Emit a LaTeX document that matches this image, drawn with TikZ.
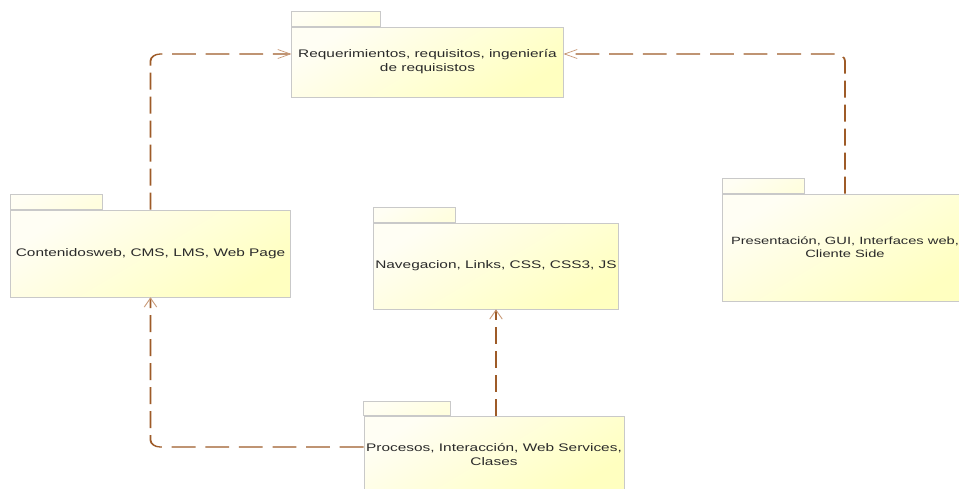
\documentclass[tikz,border=0pt]{standalone}
\usepackage{fontspec}
\setmainfont{Liberation Sans}
\usetikzlibrary{arrows.meta,calc}

\definecolor{pkgedge}{HTML}{C9C9C9}
\definecolor{pkglight}{HTML}{FFFEF4}
\definecolor{pkgyellow}{HTML}{FFFFC0}
\definecolor{depline}{HTML}{9E5B28}
\definecolor{deptip}{HTML}{C99A78}
\definecolor{pkgtext}{HTML}{2A2A2A}

\tikzset{
  pkgbody/.style={draw=pkgedge, line width=0.7pt,
    top color=pkglight, bottom color=pkgyellow, shading angle=40,
    font=\fontsize{11}{14}\selectfont, text=pkgtext, align=center,
    inner sep=0pt},
  pkgtab/.style={draw=pkgedge, line width=0.7pt,
    top color=pkglight, bottom color=pkglight!60!pkgyellow, shading angle=40},
  dep/.style={draw=depline, line width=1.3pt, dash pattern=on 17pt off 7pt,
    rounded corners=7pt,
    -{Straight Barb[length=9pt,width=9pt,line width=0.7pt,color=deptip]}},
}

\begin{document}
\begin{tikzpicture}
\useasboundingbox[fill=white] (0,0) rectangle (959pt,-488pt);
% the whole diagram is drawn wide: x is stretched by 1.4
\begin{scope}[transform canvas={xscale=1.4}, x=0.7142857pt, y=-1pt]

  % package bodies
  \node[pkgbody, minimum width=193.6pt, minimum height=70pt] (req) at (427.5,62)
    {Requerimientos, requisitos, ingeniería\\de requisistos};
  \node[pkgbody, minimum width=199.3pt, minimum height=87pt] (cont) at (150.5,253.5)
    {Contenidosweb, CMS, LMS, Web Page};
  \node[pkgbody, minimum width=175pt, minimum height=86pt] (nav) at (496,266)
    {Navegacion, Links, CSS, CSS3, JS};
  \node[pkgbody, minimum width=174.3pt, minimum height=107pt,
        font=\fontsize{10.5}{13}\selectfont] (pres) at (845,247.5)
    {Presentación, GUI, Interfaces web,\\Cliente Side};
  \node[pkgbody, minimum width=185.7pt, minimum height=76pt] (proc) at (494,454)
    {Procesos, Interacción, Web Services,\\Clases};

  % package tabs
  \draw[pkgtab] (req.north west) rectangle ++(89,-15);
  \draw[pkgtab] (cont.north west) rectangle ++(92,-15);
  \draw[pkgtab] (nav.north west) rectangle ++(82,-15);
  \draw[pkgtab] (pres.north west) rectangle ++(82,-15);
  \draw[pkgtab] (proc.north west) rectangle ++(87,-14);

  % dependencies
  \draw[dep] (cont.north) |- ([yshift=8pt]req.west);
  \draw[dep] (pres.north) |- ([yshift=8pt]req.east);
  \draw[dep] ([yshift=7pt]proc.west) -| (cont.south);
  \draw[dep] (proc.north -| nav.south) -- (nav.south);
\end{scope}
\end{tikzpicture}
\end{document}
